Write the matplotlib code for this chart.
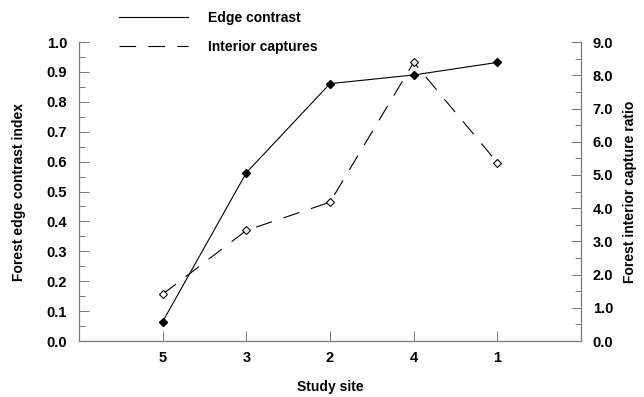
import numpy as np
import matplotlib.pyplot as plt
from matplotlib.ticker import MultipleLocator

plt.rcParams['font.family'] = ['Liberation Sans', 'DejaVu Sans']
plt.rcParams['font.weight'] = 'bold'

# study sites in plotted order
sites = ['5', '3', '2', '4', '1']
edge_contrast = [0.065, 0.563, 0.861, 0.890, 0.932]
interior_captures = [1.41, 3.33, 4.18, 8.39, 5.37]

fig = plt.figure(figsize=(6.44, 3.97), dpi=100)
ax = fig.add_axes([0.1227, 0.141, 0.7795, 0.753])
ax2 = ax.twinx()

x = np.arange(1, len(sites) + 1)

l1, = ax.plot(x, edge_contrast, color='black', lw=0.8, marker='D',
              markersize=4, markerfacecolor='black', label='Edge contrast')
l2, = ax2.plot(x, interior_captures, color='black', lw=0.8, marker='D',
               markersize=4, markerfacecolor='white', markeredgewidth=0.8,
               dashes=(15, 11), label='Interior captures')

ax.set_xlim(0, 6)
ax.set_ylim(0, 1.0)
ax2.set_ylim(0, 9.0)
ax.set_xticks(x)
ax.set_xticklabels(sites)
ax.yaxis.set_major_locator(MultipleLocator(0.1))
ax.yaxis.set_minor_locator(MultipleLocator(0.05))
ax2.yaxis.set_major_locator(MultipleLocator(1.0))
ax2.yaxis.set_minor_locator(MultipleLocator(0.5))
ax.yaxis.set_major_formatter(plt.FormatStrFormatter('%.1f'))
ax2.yaxis.set_major_formatter(plt.FormatStrFormatter('%.1f'))

for a in (ax, ax2):
    a.spines['top'].set_visible(False)
    for s in ('left', 'right', 'bottom'):
        a.spines[s].set_color('#777777')
        a.spines[s].set_linewidth(0.8)
    a.tick_params(which='major', direction='in', length=7, width=0.7,
                  color='#777777', labelsize=10.5, pad=8.5)
    a.tick_params(which='minor', direction='in', length=4, width=0.7,
                  color='#777777')
ax.tick_params(axis='x', length=7, pad=7)

ax.set_xlabel('Study site', fontsize=10, fontweight='bold', labelpad=11)
ax.set_ylabel('Forest edge contrast index', fontsize=10, fontweight='bold',
              labelpad=15)
ax2.set_ylabel('Forest interior capture ratio', fontsize=10,
               fontweight='bold', labelpad=7)

leg = fig.legend([l1, l2], ['Edge contrast', 'Interior captures'],
                 loc='upper left', bbox_to_anchor=(0.165, 1.005),
                 frameon=False, fontsize=10, handlelength=5.0,
                 handletextpad=1.4, labelspacing=1.1)
for h in leg.legend_handles:
    h.set_marker('')

fig.savefig('out.png', dpi=100)
